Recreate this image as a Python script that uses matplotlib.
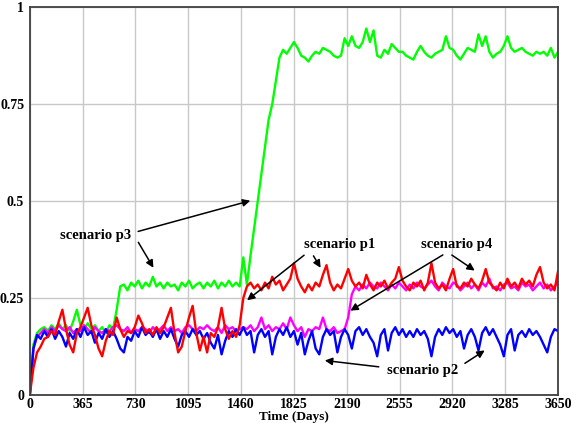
import numpy as np
import matplotlib
matplotlib.use("Agg")
import matplotlib.pyplot as plt

plt.rcParams['font.family'] = ['Liberation Serif', 'DejaVu Serif']
plt.rcParams['font.weight'] = 'bold'

# values, one every 25 days (rows of 250 days)
days = np.arange(0, 3651, 25)

p3_green = [
    0.0, 0.13, 0.16, 0.17, 0.175, 0.165, 0.18, 0.17, 0.185, 0.17,
    0.18, 0.165, 0.19, 0.22, 0.18, 0.17, 0.185, 0.17, 0.18, 0.165,
    0.175, 0.16, 0.18, 0.17, 0.22, 0.28, 0.285, 0.27, 0.29, 0.28,
    0.295, 0.275, 0.29, 0.28, 0.305, 0.28, 0.29, 0.275, 0.29, 0.28,
    0.285, 0.27, 0.29, 0.28, 0.295, 0.275, 0.285, 0.29, 0.275, 0.29,
    0.28, 0.295, 0.275, 0.29, 0.28, 0.295, 0.28, 0.29, 0.28, 0.355,
    0.285, 0.36, 0.43, 0.50, 0.57, 0.64, 0.71, 0.75, 0.81, 0.87,
    0.89, 0.88, 0.895, 0.91, 0.895, 0.875, 0.87, 0.86, 0.875, 0.885,
    0.88, 0.895, 0.89, 0.885, 0.875, 0.87, 0.875, 0.92, 0.9, 0.925,
    0.9, 0.895, 0.91, 0.945, 0.91, 0.94, 0.875, 0.87, 0.89, 0.88,
    0.905, 0.895, 0.885, 0.885, 0.875, 0.87, 0.865, 0.885, 0.9, 0.885,
    0.875, 0.87, 0.88, 0.885, 0.89, 0.925, 0.895, 0.89, 0.875, 0.865,
    0.88, 0.895, 0.89, 0.885, 0.93, 0.9, 0.925, 0.885, 0.87, 0.88,
    0.885, 0.9, 0.925, 0.895, 0.885, 0.89, 0.895, 0.885, 0.88, 0.875,
    0.885, 0.88, 0.885, 0.875, 0.895, 0.87, 0.885,
]

p4_magenta = [
    0.0, 0.12, 0.15, 0.16, 0.17, 0.16, 0.175, 0.165, 0.18, 0.17,
    0.165, 0.175, 0.16, 0.17, 0.165, 0.18, 0.17, 0.16, 0.175, 0.165,
    0.16, 0.17, 0.165, 0.175, 0.18, 0.17, 0.165, 0.175, 0.16, 0.17,
    0.165, 0.175, 0.17, 0.16, 0.175, 0.165, 0.17, 0.18, 0.165, 0.175,
    0.165, 0.17, 0.16, 0.175, 0.18, 0.17, 0.165, 0.175, 0.17, 0.18,
    0.17, 0.165, 0.175, 0.16, 0.18, 0.17, 0.175, 0.165, 0.17, 0.175,
    0.17, 0.18, 0.165, 0.175, 0.2, 0.17, 0.18, 0.165, 0.175, 0.17,
    0.185, 0.17, 0.2, 0.18, 0.165, 0.175, 0.15, 0.17, 0.165, 0.175,
    0.17, 0.2, 0.17, 0.165, 0.175, 0.16, 0.165, 0.17, 0.2, 0.26,
    0.28, 0.27, 0.285, 0.275, 0.29, 0.28, 0.275, 0.29, 0.28, 0.27,
    0.285, 0.275, 0.29, 0.28, 0.27, 0.285, 0.275, 0.29, 0.28, 0.275,
    0.285, 0.295, 0.28, 0.27, 0.29, 0.28, 0.275, 0.29, 0.285, 0.27,
    0.28, 0.29, 0.275, 0.285, 0.27, 0.29, 0.28, 0.3, 0.275, 0.28,
    0.27, 0.285, 0.29, 0.275, 0.28, 0.27, 0.29, 0.28, 0.285, 0.27,
    0.28, 0.29, 0.275, 0.285, 0.27, 0.28, 0.29,
]

p2_blue = [
    0.0, 0.12, 0.155, 0.145, 0.165, 0.15, 0.17, 0.145, 0.165, 0.15,
    0.125, 0.16, 0.145, 0.17, 0.15, 0.175, 0.155, 0.165, 0.135, 0.16,
    0.145, 0.17, 0.15, 0.165, 0.145, 0.12, 0.11, 0.15, 0.14, 0.165,
    0.15, 0.175, 0.155, 0.165, 0.15, 0.17, 0.145, 0.165, 0.15, 0.17,
    0.145, 0.125, 0.155, 0.165, 0.15, 0.17, 0.155, 0.165, 0.145, 0.16,
    0.135, 0.12, 0.155, 0.105, 0.14, 0.165, 0.15, 0.17, 0.155, 0.175,
    0.155, 0.165, 0.11, 0.155, 0.17, 0.15, 0.165, 0.105, 0.15, 0.17,
    0.155, 0.175, 0.15, 0.165, 0.13, 0.16, 0.105, 0.14, 0.165, 0.12,
    0.105, 0.15, 0.17, 0.155, 0.165, 0.11, 0.15, 0.17, 0.155, 0.12,
    0.165, 0.175, 0.155, 0.17, 0.15, 0.135, 0.1, 0.155, 0.17, 0.115,
    0.16, 0.175, 0.155, 0.17, 0.15, 0.165, 0.15, 0.17, 0.155, 0.165,
    0.145, 0.1, 0.15, 0.17, 0.155, 0.175, 0.16, 0.17, 0.15, 0.165,
    0.12, 0.155, 0.17, 0.15, 0.115, 0.16, 0.175, 0.155, 0.17, 0.15,
    0.13, 0.1, 0.155, 0.17, 0.115, 0.155, 0.165, 0.15, 0.17, 0.155,
    0.165, 0.15, 0.13, 0.11, 0.15, 0.17, 0.165,
]

p1_red = [
    0.0, 0.07, 0.11, 0.125, 0.145, 0.15, 0.165, 0.155, 0.19, 0.22,
    0.17, 0.13, 0.11, 0.16, 0.175, 0.2, 0.225, 0.18, 0.155, 0.12,
    0.1, 0.14, 0.165, 0.155, 0.2, 0.17, 0.15, 0.165, 0.16, 0.175,
    0.205, 0.185, 0.16, 0.17, 0.155, 0.175, 0.16, 0.175, 0.2, 0.225,
    0.16, 0.11, 0.125, 0.165, 0.2, 0.23, 0.16, 0.115, 0.15, 0.11,
    0.16, 0.15, 0.175, 0.225, 0.17, 0.145, 0.165, 0.15, 0.18, 0.25,
    0.28, 0.29, 0.275, 0.285, 0.27, 0.29, 0.275, 0.305, 0.285, 0.295,
    0.27, 0.285, 0.3, 0.34, 0.3, 0.28, 0.265, 0.285, 0.27, 0.29,
    0.28, 0.31, 0.335, 0.29, 0.27, 0.285, 0.275, 0.3, 0.325, 0.295,
    0.28, 0.29, 0.275, 0.31, 0.285, 0.27, 0.29, 0.28, 0.295, 0.275,
    0.29, 0.3, 0.33, 0.295, 0.28, 0.27, 0.29, 0.28, 0.295, 0.27,
    0.29, 0.34, 0.29, 0.275, 0.285, 0.27, 0.3, 0.325, 0.28, 0.275,
    0.29, 0.28, 0.3, 0.285, 0.275, 0.295, 0.325, 0.29, 0.28, 0.27,
    0.29, 0.275, 0.3, 0.28, 0.29, 0.275, 0.3, 0.285, 0.295, 0.28,
    0.31, 0.33, 0.29, 0.275, 0.285, 0.27, 0.32,
]

x_ticks = [0, 365, 730, 1095, 1460, 1825, 2190, 2555, 2920, 3285, 3650]
y_ticks = [0, 0.25, 0.5, 0.75, 1]
y_labels = ["0", "0.25", "0.5", "0.75", "1"]

fig = plt.figure(figsize=(5.73, 4.23), dpi=100)
ax = fig.add_axes([0.052, 0.066, 0.922, 0.917])

ax.plot(days, p3_green, color='#00ff00', lw=1.7)
ax.plot(days, p4_magenta, color='#ff00ff', lw=1.7)
ax.plot(days, p2_blue, color='#0000ff', lw=1.7)
ax.plot(days, p1_red, color='#ff0000', lw=1.7)

ax.set_xlim(0, 3650)
ax.set_ylim(0, 1)
ax.set_xticks(x_ticks)
ax.set_yticks(y_ticks)
ax.set_yticklabels(y_labels)
ax.tick_params(length=0, labelsize=10, pad=4)
ax.tick_params(axis='x', pad=2)
ax.grid(True, color='#c8c8c8', lw=1)
ax.set_axisbelow(True)
for s in ax.spines.values():
    s.set_color('#404040')
    s.set_linewidth(1.3)
ax.set_xlabel("Time (Days)", fontsize=9.5, fontweight='bold', labelpad=0)

# labels and arrows
arr = dict(arrowstyle='-|>', color='black', lw=1.1, mutation_scale=11)
txt = dict(fontsize=10.5, fontweight='bold', ha='center', va='center')

ax.text(456, 0.412, "scenario p3", **txt)
ax.annotate('', xy=(1542, 0.503), xytext=(730, 0.42), arrowprops=arr)
ax.annotate('', xy=(864, 0.322), xytext=(740, 0.40), arrowprops=arr)

ax.text(2143, 0.387, "scenario p1", **txt)
ax.annotate('', xy=(1486, 0.24), xytext=(1910, 0.365), arrowprops=arr)
ax.annotate('', xy=(2019, 0.322), xytext=(1950, 0.365), arrowprops=arr)

ax.text(2952, 0.387, "scenario p4", **txt)
ax.annotate('', xy=(2198, 0.214), xytext=(2870, 0.365), arrowprops=arr)
ax.annotate('', xy=(3090, 0.317), xytext=(2900, 0.365), arrowprops=arr)

ax.text(2717, 0.064, "scenario p2", **txt)
ax.annotate('', xy=(2019, 0.09), xytext=(2430, 0.072), arrowprops=arr)
ax.annotate('', xy=(3159, 0.119), xytext=(2990, 0.078), arrowprops=arr)

fig.savefig("out.png", dpi=100)
